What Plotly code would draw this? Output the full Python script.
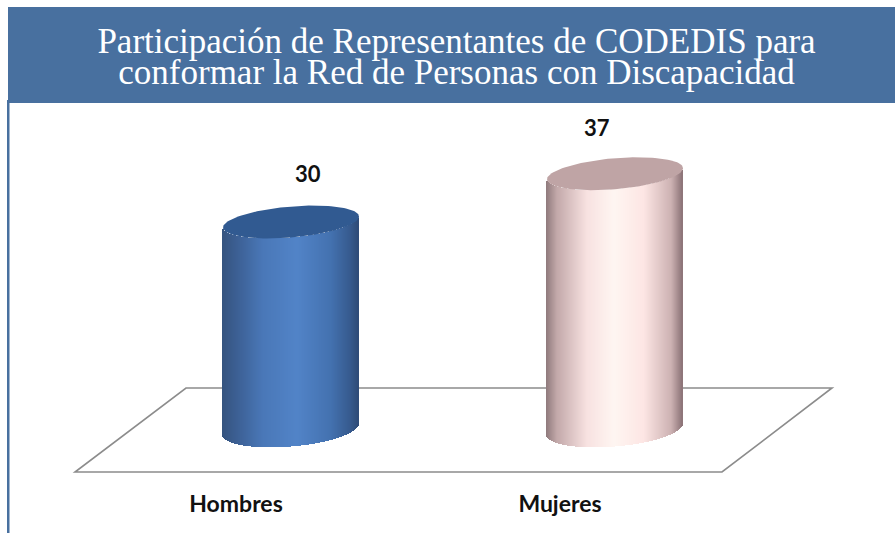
import numpy as np
import plotly.graph_objects as go

categories = ["Hombres", "Mujeres"]
values = [30, 37]
title_lines = ["Participación de Representantes de CODEDIS para",
               "conformar la Red de Personas con Discapacidad"]
body_stops = [
    [(0, "#35547f"), (0.12, "#3d6196"), (0.3, "#4a78b8"), (0.55, "#5284c8"),
     (0.8, "#4472b0"), (0.94, "#375b8f"), (1, "#2f4c78")],
    [(0, "#8f7a7c"), (0.08, "#c3a9aa"), (0.3, "#f8e2e1"), (0.5, "#fff6f2"),
     (0.72, "#fde6e4"), (0.92, "#cdb2b3"), (1, "#8d7478")],
]
top_colors = ["#315a91", "#bfa4a5"]

W, H = 895, 533
PLOT_H = 472
PX_PER_X = 324.0
PX_PER_Y = 6.9
CX0, Y0 = 291.0, 429.0
A, B, K = 68.0, 15.5, 5.5   # ellipse semi-axes and tilt, in pixels
B_BASE = 17.5
xr = [-CX0 / PX_PER_X, (W - CX0) / PX_PER_X]
yr = [(Y0 - PLOT_H) / PX_PER_Y, Y0 / PX_PER_Y]


def hex_rgb(c):
    return np.array([int(c[i:i + 2], 16) for i in (1, 3, 5)], float)


def ramp(stops, u):
    pos = [s[0] for s in stops]
    rgb = np.array([hex_rgb(s[1]) for s in stops])
    return ["rgb(%d,%d,%d)" % tuple(np.interp(v, pos, rgb[:, i]) for i in range(3)) for v in u]


def py(p):
    return 1 - p / PLOT_H


fig = go.Figure()
for i, (name, val) in enumerate(zip(categories, values)):
    dx = np.arange(-A + 0.5, A, 1.0)
    u = dx / A
    arc = (-B_BASE * np.sqrt(1 - u ** 2) + K * u) / PX_PER_Y
    top = val + (-B * np.sqrt(1 - u ** 2) + K * u) / PX_PER_Y
    fig.add_trace(go.Bar(
        x=i + dx / PX_PER_X, y=top - arc, base=arc, width=1.4 / PX_PER_X,
        marker=dict(color=ramp(body_stops[i], (u + 1) / 2), line_width=0),
        name=name, hoverinfo="skip", showlegend=False))
    t = np.linspace(0, 2 * np.pi, 121)
    fig.add_trace(go.Scatter(
        x=i + A * np.cos(t) / PX_PER_X,
        y=val + (B * np.sin(t) + K * np.cos(t)) / PX_PER_Y,
        mode="lines", fill="toself", fillcolor=top_colors[i],
        line=dict(width=0, color=top_colors[i]), hoverinfo="skip", showlegend=False))

floor = [(186, 388), (832, 388), (722, 472), (75, 472)]
path = "M " + " L ".join(f"{x / W:.5f},{py(y):.5f}" for x, y in floor) + " Z"
shapes = [
    dict(type="path", path=path, xref="paper", yref="paper", layer="below",
         line=dict(color="#8c8c8c", width=1.6), fillcolor="#ffffff"),
    dict(type="rect", xref="paper", yref="paper", x0=8 / W, x1=1, y0=py(103), y1=py(7),
         line_width=0, fillcolor="#48709f", layer="above"),
    dict(type="rect", xref="paper", yref="paper", x0=7 / W, x1=9.5 / W, y0=py(533), y1=py(100),
         line_width=0, fillcolor="#48709f", layer="below"),
]

label_off = [(17, 49), (-18, 46)]
ann = []
for i, val in enumerate(values):
    ann.append(dict(x=i, y=val, xref="x", yref="y", text=str(val), showarrow=False,
                    xshift=label_off[i][0], yshift=label_off[i][1],
                    font=dict(family="Lato", size=22, color="#111111", weight="bold")))

fig.update_layout(
    width=W, height=H, margin=dict(l=0, r=0, t=0, b=H - PLOT_H, pad=0),
    paper_bgcolor="#ffffff", plot_bgcolor="rgba(0,0,0,0)", barmode="overlay", bargap=0,
    showlegend=False, shapes=shapes, annotations=ann,
    title=dict(text="<br>".join(title_lines), x=456.5 / W, xanchor="center", xref="paper",
               y=1 - 53 / H, yanchor="top", yref="container",
               font=dict(family="Liberation Serif", size=35, color="#ffffff")),
    xaxis=dict(range=xr, showgrid=False, zeroline=False, showline=False, fixedrange=True,
               tickmode="array", tickvals=[i - 55 / PX_PER_X for i in range(len(categories))],
               ticktext=categories, ticks="outside", ticklen=11, tickcolor="rgba(0,0,0,0)",
               tickfont=dict(family="Lato", size=23, color="#111111", weight="bold")),
    yaxis=dict(range=yr, visible=False, fixedrange=True),
)
tighten = """
document.body.style.margin='0';
setTimeout(function(){
  var lines=document.querySelectorAll('.gtitle tspan.line');
  if(lines.length>1){lines[1].setAttribute('dy','31px');}
},30);
"""
fig.write_html("out.html", post_script=tighten, config=dict(displayModeBar=False))
